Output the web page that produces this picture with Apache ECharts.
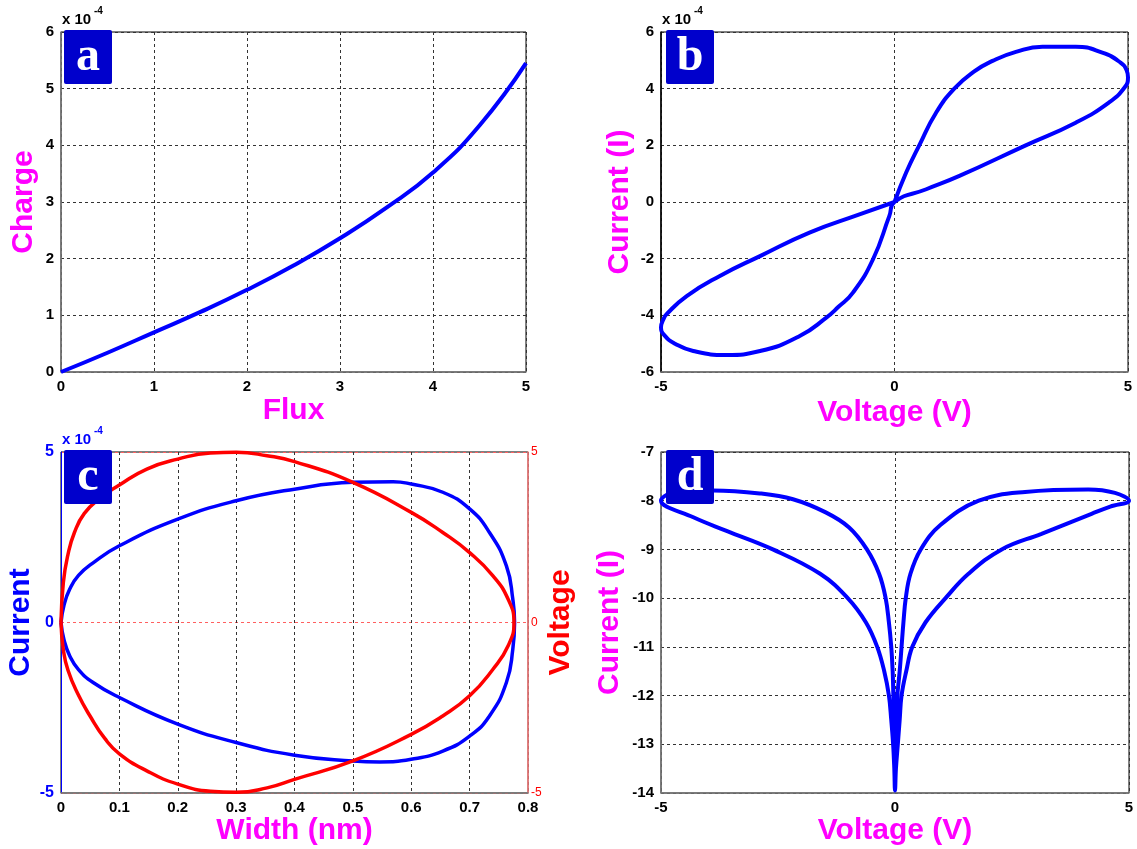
<!DOCTYPE html>
<html><head><meta charset="utf-8">
<script src="https://cdn.jsdelivr.net/npm/echarts@6/dist/echarts.min.js"></script>
<style>html,body{margin:0;padding:0;background:#fff}#c{width:1137px;height:849px}</style>
</head><body><div id="c"></div><script>
// ---------- data (a): Charge (x1e-4) vs Flux ----------
const fluxA   = [0, 0.5, 1, 1.5, 2, 2.5, 3, 3.5, 4, 4.5, 5];
const chargeA = [0, 0.34, 0.70, 1.06, 1.45, 1.88, 2.36, 2.90, 3.52, 4.35, 5.45];
// ---------- data (b): Current (x1e-4) vs Voltage, pinched loop ----------
const voltageB = [0, 0.25, 0.53, 0.89, 1.28, 1.7, 2.1, 2.6, 3.17, 3.88, 4.45, 4.84, 4.97, 5.0, 4.93, 4.59, 3.88, 2.81, 1.39, 0.68, 0,
                  -0.11, -0.46, -0.89, -1.2, -1.46, -2.03, -2.88, -3.6, -4.31, -4.7, -4.93, -5.0, -4.95, -4.88, -4.45, -3.74, -2.88, -1.82, -0.75, 0];
const currentB = [0, 1.04, 2.0, 3.15, 4.0, 4.6, 4.98, 5.3, 5.48, 5.48, 5.27, 4.92, 4.65, 4.4, 4.05, 3.51, 2.8, 2.0, 0.92, 0.45, 0,
                  -0.49, -2.02, -3.2, -3.7, -4.08, -4.73, -5.26, -5.4, -5.26, -5.0, -4.7, -4.42, -4.15, -3.96, -3.32, -2.61, -1.91, -1.08, -0.44, 0];
// ---------- data (c): Current (x1e-4, blue) and Voltage (red) vs Width ----------
const widthBlue   = [0, 0.005, 0.015, 0.03, 0.055, 0.1, 0.2, 0.3, 0.4, 0.5, 0.569, 0.6, 0.654, 0.7, 0.734, 0.763, 0.774, 0.777,
                     0.774, 0.763, 0.734, 0.7, 0.654, 0.6, 0.546, 0.5, 0.4, 0.3, 0.2, 0.1, 0.055, 0.03, 0.015, 0.005, 0];
const currentBlue = [0, 0.5, 0.98, 1.38, 1.75, 2.25, 3.03, 3.57, 3.91, 4.11, 4.13, 4.06, 3.82, 3.33, 2.64, 1.66, 0.68, 0,
                     -0.78, -1.76, -2.74, -3.33, -3.77, -4.01, -4.09, -4.06, -3.89, -3.52, -2.98, -2.2, -1.76, -1.38, -0.98, -0.5, 0];
const widthRed    = [0, 0.004, 0.012, 0.023, 0.04, 0.067, 0.1, 0.147, 0.2, 0.256, 0.3, 0.353, 0.4, 0.5, 0.6, 0.654, 0.7, 0.74, 0.766, 0.776,
                     0.766, 0.74, 0.7, 0.654, 0.6, 0.5, 0.4, 0.353, 0.3, 0.256, 0.2, 0.147, 0.1, 0.075, 0.05, 0.029, 0.012, 0.004, 0];
const voltageRed  = [0, 1.17, 2.0, 2.64, 3.2, 3.65, 4.03, 4.5, 4.79, 4.97, 4.99, 4.89, 4.72, 4.11, 3.23, 2.64, 2.05, 1.37, 0.68, 0,
                     -0.68, -1.37, -2.15, -2.74, -3.28, -4.06, -4.6, -4.85, -4.98, -4.95, -4.74, -4.35, -3.85, -3.4, -2.75, -2.1, -1.4, -0.8, 0];
// ---------- data (d): log Current vs Voltage ----------
const voltageD = [0, 0.01, 0.03, 0.05, 0.1, 0.14, 0.18, 0.23, 0.33, 0.55, 0.97, 1.79, 2.78, 4.13, 4.7, 5.0,
                  4.6, 4.2, 3.13, 2.28, 1.57, 1.08, 0.65, 0.37, 0.24, 0.14, 0.1, 0.06, 0.02, 0,
                  -0.015, -0.04, -0.08, -0.13, -0.23, -0.38, -0.62, -1.01, -1.6, -2.61, -3.6, -4.31, -5.0,
                  -4.6, -3.89, -2.89, -2.18, -1.48, -0.98, -0.6, -0.34, -0.2, -0.13, -0.08, -0.05, -0.035, -0.02, -0.01, 0];
const currentD = [-13.95, -13, -12.5, -12, -11.5, -11, -10.5, -10, -9.5, -9.0, -8.5, -8.0, -7.82, -7.77, -7.84, -8.0,
                  -8.12, -8.27, -8.68, -9.0, -9.5, -10, -10.5, -11, -11.5, -12, -12.5, -13, -13.5, -13.95,
                  -13.5, -13, -12.5, -12, -11.5, -11, -10.5, -10, -9.5, -9.0, -8.62, -8.34, -8.0,
                  -7.8, -7.79, -7.85, -7.97, -8.24, -8.55, -9.0, -9.5, -10, -10.5, -11, -11.5, -12, -12.5, -13, -13.95];
// ---------- tick / label text ----------
const panelLetters = ['a', 'b', 'c', 'd'];
const expText = 'x 10', expPow = '-4';

const zip = (xs, ys) => xs.map((x, i) => [x, ys[i]]);
const FF = '"Liberation Sans", Arial, sans-serif';
const titleStyle = (c) => ({color: c, fontSize: 30, fontWeight: 'bold', fontFamily: FF});
const tickLbl = (extra) => Object.assign({color: '#000', fontSize: 15, fontWeight: 'bold', fontFamily: FF, margin: 7}, extra || {});
const dashGrid = {show: true, lineStyle: {color: '#333', type: [3, 3], width: 1}};
const axLine = (c, w) => ({show: true, onZero: false, lineStyle: {color: c || '#7a7a7a', width: w || 1.5}});
const noTick = {show: false};

const chart = echarts.init(document.getElementById('c'), null, {renderer: 'canvas'});
const gridBase = {show: true, borderColor: '#000', borderWidth: 1, backgroundColor: 'transparent'};

const lineSeries = (xi, yi, data, color, w, s) => ({
  type: 'line', xAxisIndex: xi, yAxisIndex: yi, data: data, showSymbol: false, smooth: s,
  clip: false, lineStyle: {color: color, width: w}, z: 5
});

function letterBox(x, y, ch) {
  return [
    {type: 'rect', x: x, y: y, shape: {width: 48, height: 54, r: 2}, style: {fill: '#0000cc'}, z: 100},
    {type: 'text', x: x + 24, y: y + 28, z: 101,
     style: {text: ch, fill: '#fff', font: 'bold 48px "Liberation Serif", "DejaVu Serif", serif', align: 'center', verticalAlign: 'middle'}}
  ];
}
function expLabel(x, y, color) {
  return [
    {type: 'text', x: x, y: y, z: 100, style: {text: expText, fill: color, font: 'bold 15px ' + FF, align: 'left', verticalAlign: 'middle'}},
    {type: 'text', x: x + 32, y: y - 9, z: 100, style: {text: expPow, fill: color, font: 'bold 10px ' + FF, align: 'left', verticalAlign: 'middle'}}
  ];
}

const option = {
  animation: false,
  backgroundColor: '#fff',
  grid: [
    Object.assign({left: 61, top: 32, width: 465, height: 340}, gridBase),
    Object.assign({left: 661, top: 32, width: 467, height: 340}, gridBase),
    Object.assign({left: 61, top: 452, width: 467, height: 341}, gridBase),
    Object.assign({left: 661, top: 452, width: 468, height: 341}, gridBase)
  ],
  xAxis: [
    {gridIndex: 0, type: 'value', min: 0, max: 5, interval: 1, name: 'Flux', nameLocation: 'middle', nameGap: 24,
     nameTextStyle: titleStyle('#ff00ff'), axisLabel: tickLbl(), splitLine: dashGrid, axisLine: axLine(), axisTick: noTick},
    {gridIndex: 1, type: 'value', min: -5, max: 5, interval: 5, name: 'Voltage (V)', nameLocation: 'middle', nameGap: 26,
     nameTextStyle: titleStyle('#ff00ff'), axisLabel: tickLbl(), splitLine: dashGrid, axisLine: axLine(), axisTick: noTick},
    {gridIndex: 2, type: 'value', min: 0, max: 0.8, interval: 0.1, name: 'Width (nm)', nameLocation: 'middle', nameGap: 18,
     nameTextStyle: titleStyle('#ff00ff'), axisLabel: tickLbl(), splitLine: dashGrid, axisLine: axLine(), axisTick: noTick},
    {gridIndex: 3, type: 'value', min: -5, max: 5, interval: 5, name: 'Voltage (V)', nameLocation: 'middle', nameGap: 23,
     nameTextStyle: titleStyle('#ff00ff'), axisLabel: tickLbl(), splitLine: dashGrid, axisLine: axLine(), axisTick: noTick}
  ],
  yAxis: [
    {gridIndex: 0, type: 'value', min: 0, max: 6, interval: 1, name: 'Charge', nameLocation: 'middle', nameGap: 22, nameRotate: 90,
     nameTextStyle: titleStyle('#ff00ff'), axisLabel: tickLbl(), splitLine: dashGrid, axisLine: axLine(), axisTick: noTick},
    {gridIndex: 1, type: 'value', min: -6, max: 6, interval: 2, name: 'Current (I)', nameLocation: 'middle', nameGap: 26, nameRotate: 90,
     nameTextStyle: titleStyle('#ff00ff'), axisLabel: tickLbl(), splitLine: dashGrid, axisLine: axLine('#000', 1.5), axisTick: noTick},
    {gridIndex: 2, type: 'value', position: 'left', min: -5, max: 5, interval: 5, name: 'Current', nameLocation: 'middle', nameGap: 24, nameRotate: 90,
     nameTextStyle: titleStyle('#0000ff'), axisLabel: tickLbl({color: '#0000ff', fontSize: 16}), splitLine: {show: false},
     axisLine: axLine('#0000ff', 1), axisTick: noTick},
    {gridIndex: 2, type: 'value', position: 'right', min: -5, max: 5, interval: 5, name: 'Voltage', nameLocation: 'middle', nameGap: 15, nameRotate: 90,
     nameTextStyle: titleStyle('#ff0000'), axisLabel: {color: '#ff0000', fontSize: 12, fontFamily: FF, margin: 3},
     splitLine: {show: true, lineStyle: {color: '#ff6060', type: [3, 3], width: 1}}, axisLine: axLine('#ff7f7f', 1.5), axisTick: noTick},
    {gridIndex: 3, type: 'value', min: -14, max: -7, interval: 1, name: 'Current (I)', nameLocation: 'middle', nameGap: 36, nameRotate: 90,
     nameTextStyle: titleStyle('#ff00ff'), axisLabel: tickLbl(), splitLine: dashGrid, axisLine: axLine(), axisTick: noTick}
  ],
  series: [
    lineSeries(0, 0, zip(fluxA, chargeA), '#0000ff', 4, 0.5),
    lineSeries(1, 1, zip(voltageB, currentB), '#0000ff', 4, 0.5),
    lineSeries(2, 2, zip(widthBlue, currentBlue), '#0000ff', 3.5, 0.5),
    lineSeries(2, 3, zip(widthRed, voltageRed), '#ff0000', 3.5, 0.5),
    lineSeries(3, 4, zip(voltageD, currentD), '#0000ff', 4, 0.4)
  ],
  graphic: [].concat(
    letterBox(64, 30, panelLetters[0]),
    letterBox(666, 30, panelLetters[1]),
    letterBox(64, 450, panelLetters[2]),
    letterBox(666, 450, panelLetters[3]),
    expLabel(62, 20, '#000'),
    expLabel(662, 20, '#000'),
    expLabel(62, 440, '#0000ff')
  )
};
chart.setOption(option);
</script></body></html>
